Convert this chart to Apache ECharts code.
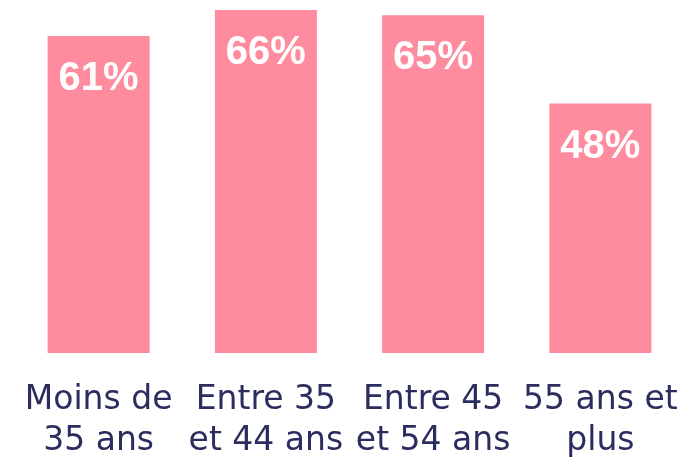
<!DOCTYPE html>
<html>
<head>
<meta charset="utf-8">
<script src="https://cdn.jsdelivr.net/npm/echarts@6/dist/echarts.min.js"></script>
<style>
  html, body { margin: 0; padding: 0; background: #ffffff; }
  #chart { width: 690px; height: 458px; }
</style>
</head>
<body>
<div id="chart"></div>
<script>
// tranches d'âge et part en %
var categories = ['Moins de\n35 ans', 'Entre 35\net 44 ans', 'Entre 45\net 54 ans', '55 ans et\nplus'];
var values = [61, 66, 65, 48];

var chart = echarts.init(document.getElementById('chart'));

var option = {
    backgroundColor: '#ffffff',
    animation: false,
    grid: { left: 15, right: 6, top: 10, bottom: 105, outerBoundsMode: 'none' },
    xAxis: {
        type: 'category',
        data: categories,
        axisLine: { show: false },
        axisTick: { show: false },
        axisLabel: {
            interval: 0,
            margin: 27,
            color: '#2b2d5e',
            fontFamily: 'DejaVu Sans',
            fontSize: 33,
            lineHeight: 41,
            align: 'center'
        }
    },
    yAxis: {
        type: 'value',
        min: 0,
        max: 66,
        show: false,
        splitLine: { show: false }
    },
    series: [{
        type: 'bar',
        data: values,
        barWidth: 102,
        itemStyle: { color: '#ff8b9e' },
        label: {
            show: true,
            position: 'insideTop',
            distance: 23,
            formatter: '{c}%',
            color: '#ffffff',
            fontFamily: 'Liberation Sans',
            fontWeight: 'bold',
            fontSize: 40
        }
    }]
};

chart.setOption(option);
</script>
</body>
</html>
